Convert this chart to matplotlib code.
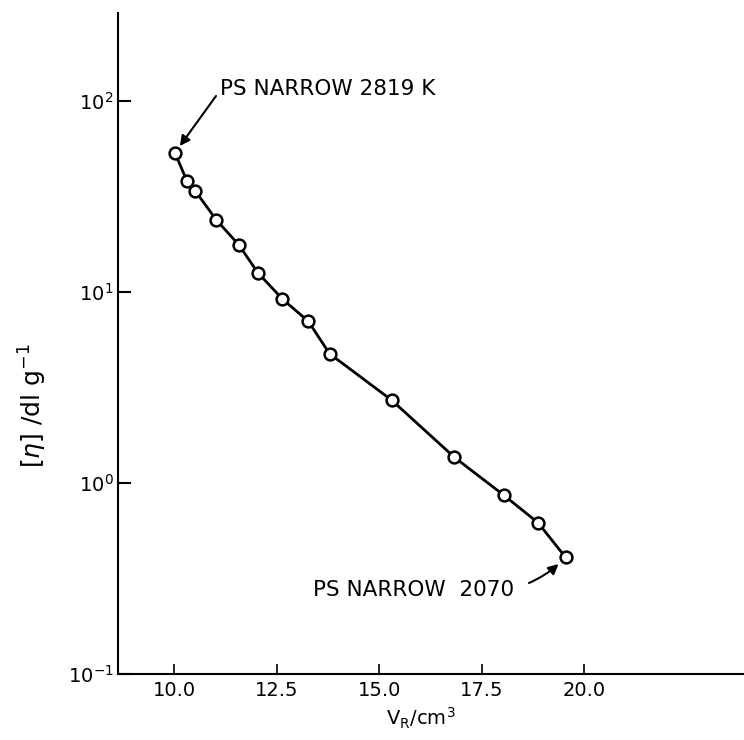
import matplotlib
matplotlib.use("Agg")
import matplotlib.pyplot as plt
from matplotlib.ticker import LogLocator, NullLocator

# Retention volume (cm3) and intrinsic viscosity (dl/g)
vr = [10.02, 10.31, 10.51, 11.03, 11.58, 12.04, 12.64, 13.27, 13.79,
      15.30, 16.83, 18.03, 18.87, 19.54]
eta = [53.5, 38.2, 33.9, 23.8, 17.6, 12.6, 9.17, 7.01, 4.74,
       2.71, 1.36, 0.862, 0.617, 0.407]

x_ticks = [10.0, 12.5, 15.0, 17.5, 20.0]
x_tick_labels = ["10.0", "12.5", "15.0", "17.5", "20.0"]

label_top = "PS NARROW 2819 K"
label_bottom = "PS NARROW  2070"

W, H = 744, 740
fig = plt.figure(figsize=(W / 100, H / 100), dpi=100)
ax = fig.add_axes([117.5 / W, 1 - 673.6 / H, 626.5 / W, 660.6 / H])

ax.plot(vr, eta, color="black", linewidth=2.0, zorder=2)
ax.plot(vr, eta, linestyle="none", marker="o", markersize=8.5,
        markerfacecolor="white", markeredgecolor="black",
        markeredgewidth=1.8, zorder=3)

ax.set_yscale("log")
ax.set_xlim(8.62, 23.89)
ax.set_ylim(0.1, 289)

ax.set_xticks(x_ticks)
ax.set_xticklabels(x_tick_labels)
ax.yaxis.set_major_locator(LogLocator(base=10, numticks=10))
ax.yaxis.set_minor_locator(NullLocator())
ax.xaxis.set_minor_locator(NullLocator())

for side in ["top", "right"]:
    ax.spines[side].set_visible(False)
for side in ["left", "bottom"]:
    ax.spines[side].set_linewidth(1.5)

ax.tick_params(axis="x", direction="in", length=7, width=1.2, pad=5,
               labelsize=14)
ax.tick_params(axis="y", direction="in", length=9, width=1.5, pad=3,
               labelsize=14)

# axis titles
fig.text(421 / W, 1 - 718 / H, r"V$_\mathregular{R}$/cm$^\mathregular{3}$",
         ha="center", va="center", fontsize=14)
fig.text(33 / W, 1 - 406 / H, r"$[\eta]$ /dl g$^{-1}$", rotation=90,
         ha="center", va="center", fontsize=18)

# labels with arrows
fig.text(220 / W, 1 - 89 / H, label_top, ha="left", va="center",
         fontsize=15.5)
ax.annotate("", xy=(vr[0], eta[0]), xycoords="data",
            xytext=(216, H - 96), textcoords="figure pixels",
            arrowprops=dict(arrowstyle="-|>", color="black", lw=1.5,
                            mutation_scale=15, shrinkA=0, shrinkB=6))

fig.text(313 / W, 1 - 590 / H, label_bottom, ha="left", va="center",
         fontsize=15.5)
ax.annotate("", xy=(vr[-1], eta[-1]), xycoords="data",
            xytext=(529, H - 583), textcoords="figure pixels",
            arrowprops=dict(arrowstyle="-|>", color="black", lw=1.5,
                            mutation_scale=15, shrinkA=0, shrinkB=7,
                            connectionstyle="arc3,rad=0.1"))

fig.savefig("out.png", dpi=100)
